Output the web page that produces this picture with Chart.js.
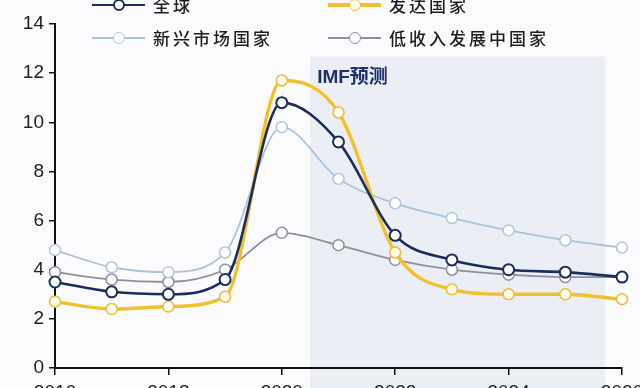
<!DOCTYPE html>
<html>
<head>
<meta charset="utf-8">
<script src="https://cdn.jsdelivr.net/npm/chart.js@4/dist/chart.umd.min.js"></script>
<style>
  html, body { margin: 0; padding: 0; background: #fbfbfd; overflow: hidden; width: 640px; height: 388px; }
  #wrap { position: relative; width: 640px; height: 408px; }
  #chart { position: absolute; left: 0; top: 0; }
  .lg { position: absolute; height: 0; }
  .lg .ln { position: absolute; left: 0; width: 53px; }
  .lg .dot { position: absolute; border-radius: 50%; box-sizing: border-box; }
  .lg .tx { position: absolute; left: 61px; top: -13px; line-height: 26px; font-size: 17px; font-weight: 500;
            font-family: "Noto Sans CJK SC", sans-serif; letter-spacing: 3px; color: #1e1e1e; white-space: nowrap; }
</style>
</head>
<body>
<div id="wrap">
  <canvas id="chart" width="640" height="408"></canvas>
</div>
<script>
// Inflation (%) by country group, 2016–2026; 2021 onward is the IMF forecast
const years = [2016, 2017, 2018, 2019, 2020, 2021, 2022, 2023, 2024, 2025, 2026];
const seriesNames = ['全球', '发达国家', '新兴市场国家', '低收入发展中国家'];
const globalRate    = [3.5, 3.1, 3.0, 3.6, 10.8, 9.2, 5.4, 4.4, 4.0, 3.9, 3.7];
const advancedRate  = [2.7, 2.4, 2.5, 2.9, 11.7, 10.4, 4.7, 3.2, 3.0, 3.0, 2.8];
const emergingRate  = [4.8, 4.1, 3.9, 4.7, 9.8, 7.7, 6.7, 6.1, 5.6, 5.2, 4.9];
const lowIncomeRate = [3.9, 3.6, 3.5, 4.0, 5.5, 5.0, 4.4, 4.0, 3.8, 3.7, 3.7];
const yTicks = [0, 2, 4, 6, 8, 10, 12, 14];
const forecastLabel = 'IMF预测';
const forecastFrom = 2020.5, forecastTo = 2025.7, forecastTop = 12.67;

const styles = [
  { line: '#1b2d5c', width: 2.6, mark: '#1b2d5c', fill: '#ffffff', mw: 2,   r: 5.5 },
  { line: '#f0c12c', width: 3.4, mark: '#e8bd3a', fill: '#fffbea', mw: 1.5, r: 5.5 },
  { line: '#a9c3da', width: 1.8, mark: '#aec5da', fill: '#ffffff', mw: 1.5, r: 5.5 },
  { line: '#8d8f9b', width: 1.8, mark: '#8d8f9b', fill: '#ffffff', mw: 1.5, r: 5.5 }
];
const values = [globalRate, advancedRate, emergingRate, lowIncomeRate];

const datasets = values.map((vals, i) => ({
  label: seriesNames[i],
  data: years.map((yr, k) => ({ x: yr, y: vals[k] })),
  borderColor: styles[i].line,
  borderWidth: styles[i].width,
  pointBackgroundColor: styles[i].fill,
  pointBorderColor: styles[i].mark,
  pointBorderWidth: styles[i].mw,
  pointRadius: styles[i].r,
  cubicInterpolationMode: 'monotone',
  clip: false
}));

// shaded forecast band with its caption
const forecastBand = {
  id: 'forecastBand',
  beforeDraw(chart) {
    const { ctx, scales: { x, y } } = chart;
    const l = x.getPixelForValue(forecastFrom);
    const r = x.getPixelForValue(forecastTo);
    const t = y.getPixelForValue(forecastTop);
    ctx.save();
    ctx.fillStyle = '#eceef6';
    ctx.fillRect(l, t, r - l, chart.height - t);
    ctx.fillStyle = '#1d2e6a';
    ctx.font = 'bold 19px "Liberation Sans", "Noto Sans CJK SC", sans-serif';
    ctx.textBaseline = 'middle';
    ctx.fillText(forecastLabel, l + 7, t + 21);
    ctx.restore();
  }
};

const tickFont = { family: '"Liberation Sans", Arial, sans-serif', size: 19 };

new Chart(document.getElementById('chart'), {
  type: 'line',
  data: { datasets },
  options: {
    responsive: false,
    animation: false,
    layout: { padding: { top: 24, right: 18, left: 0, bottom: 0 } },
    plugins: { legend: { display: false }, tooltip: { enabled: false } },
    scales: {
      x: {
        type: 'linear', min: years[0], max: years[years.length - 1],
        ticks: { stepSize: 2, callback: v => String(v), color: '#222', font: tickFont, padding: 6, maxRotation: 0, autoSkip: false },
        grid: { drawOnChartArea: false, drawTicks: true, tickLength: 7, color: '#111', lineWidth: 1.5 },
        border: { display: true, color: '#111', width: 2 },
        afterFit(s) { s.height = 40; s.paddingLeft = 0; s.paddingRight = 0; }
      },
      y: {
        min: yTicks[0], max: yTicks[yTicks.length - 1],
        afterBuildTicks(s) { s.ticks = yTicks.map(v => ({ value: v })); },
        ticks: { color: '#222', font: tickFont, padding: 5 },
        grid: { drawOnChartArea: false, drawTicks: true, tickLength: 6, color: '#111', lineWidth: 1.5 },
        border: { display: true, color: '#111', width: 2 },
        afterFit(s) { s.width = 55; s.paddingTop = 0; s.paddingBottom = 0; }
      }
    }
  },
  plugins: [forecastBand]
});

// two-column legend above the plot
const legendSpots = [[92, 5], [328, 5], [92, 38], [328, 38]];
const wrap = document.getElementById('wrap');
seriesNames.forEach((name, i) => {
  const s = styles[i];
  const item = document.createElement('div');
  item.className = 'lg';
  item.style.left = legendSpots[i][0] + 'px';
  item.style.top = legendSpots[i][1] + 'px';
  const ln = document.createElement('div');
  ln.className = 'ln';
  ln.style.height = s.width + 'px';
  ln.style.top = (-s.width / 2) + 'px';
  ln.style.background = s.line;
  const dot = document.createElement('div');
  dot.className = 'dot';
  const d = s.r * 2 + 1;
  dot.style.width = d + 'px';
  dot.style.height = d + 'px';
  dot.style.left = (26.5 - d / 2) + 'px';
  dot.style.top = (-d / 2) + 'px';
  dot.style.background = s.fill;
  dot.style.border = s.mw + 'px solid ' + s.mark;
  const tx = document.createElement('div');
  tx.className = 'tx';
  tx.textContent = name;
  item.appendChild(ln);
  item.appendChild(dot);
  item.appendChild(tx);
  wrap.appendChild(item);
});
</script>
</body>
</html>
